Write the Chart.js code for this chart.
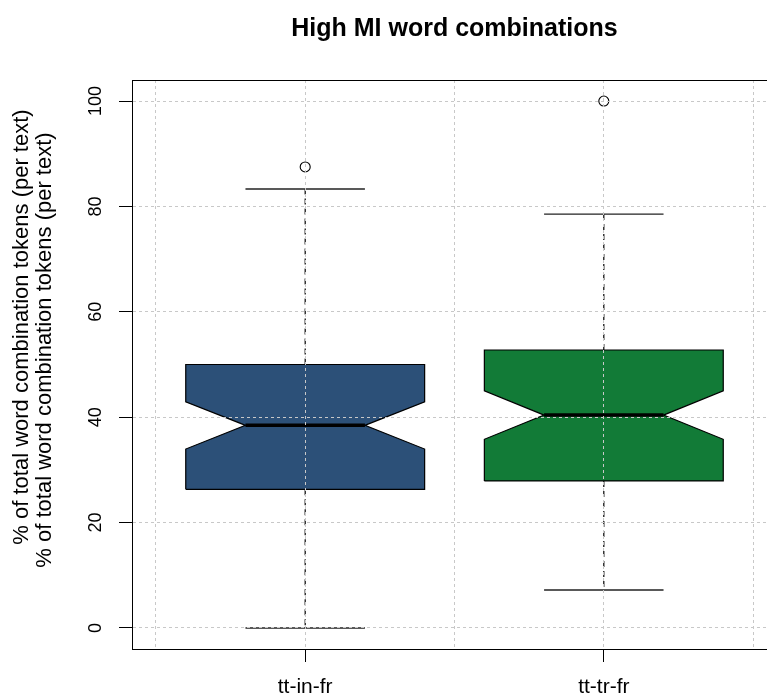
<!DOCTYPE html>
<html>
<head>
<meta charset="utf-8">
<title>High MI word combinations</title>
<script src="https://cdn.jsdelivr.net/npm/chart.js@4.4.1/dist/chart.umd.min.js"></script>
<style>
    html, body { margin: 0; padding: 0; background: #fff; overflow: hidden; }
    #wrap { width: 790px; height: 696px; }
</style>
</head>
<body>
<div id="wrap"><canvas id="mi-boxplot" width="790" height="696"></canvas></div>
<script>
// values
const categories = ['tt-in-fr', 'tt-tr-fr'];
const q1 = [26.3, 27.9];
const medians = [38.45, 40.4];
const q3 = [50.0, 52.75];
const notchLow = [33.95, 35.8];
const notchHigh = [42.9, 45.0];
const whiskerLow = [0, 7.2];
const whiskerHigh = [83.3, 78.55];
const outliers = [[87.5], [100]];
const yTicks = [0, 20, 40, 60, 80, 100];
const xGrid = [0.5, 1, 1.5, 2, 2.5];

const boxColors = ['#2c5078', '#127b37'];
const yLabel = '% of total word combination tokens (per text)';

// box geometry in x-axis units (R defaults: width 0.8, notch/staple half of it)
const boxHalf = 0.4;
const notchHalf = 0.2;
const capHalf = 0.2;

function notchedBox(i) {
    const x = i + 1;
    const pts = [
        [x - boxHalf, q1[i]],
        [x - boxHalf, notchLow[i]],
        [x - notchHalf, medians[i]],
        [x - boxHalf, notchHigh[i]],
        [x - boxHalf, q3[i]],
        [x + boxHalf, q3[i]],
        [x + boxHalf, notchHigh[i]],
        [x + notchHalf, medians[i]],
        [x + boxHalf, notchLow[i]],
        [x + boxHalf, q1[i]],
        [x - boxHalf, q1[i]]
    ];
    return pts.map(p => ({ x: p[0], y: p[1] }));
}

const segment = (x0, y0, x1, y1) => [{ x: x0, y: y0 }, { x: x1, y: y1 }];

const datasets = [];
categories.forEach((name, i) => {
    const x = i + 1;
    datasets.push({
        label: name + ' box',
        data: notchedBox(i),
        showLine: true,
        fill: 'shape',
        backgroundColor: boxColors[i],
        borderColor: '#000',
        borderWidth: 1.2,
        pointRadius: 0,
        order: 4
    });
    [[q3[i], whiskerHigh[i]], [q1[i], whiskerLow[i]]].forEach(w => {
        datasets.push({
            label: name + ' whisker',
            data: segment(x, w[0], x, w[1]),
            showLine: true,
            borderColor: '#000',
            borderWidth: 1.2,
            borderDash: [6, 4],
            pointRadius: 0,
            order: 3
        });
    });
    [whiskerHigh[i], whiskerLow[i]].forEach(v => {
        datasets.push({
            label: name + ' staple',
            data: segment(x - capHalf, v, x + capHalf, v),
            showLine: true,
            borderColor: '#222',
            borderWidth: 1.4,
            pointRadius: 0,
            order: 2
        });
    });
    datasets.push({
        label: name + ' median',
        data: segment(x - notchHalf, medians[i], x + notchHalf, medians[i]),
        showLine: true,
        borderColor: '#000',
        borderWidth: 3.5,
        borderCapStyle: 'butt',
        pointRadius: 0,
        order: 1
    });
    datasets.push({
        label: name + ' outliers',
        data: outliers[i].map(v => ({ x: x, y: v })),
        showLine: false,
        pointStyle: 'circle',
        pointRadius: 5,
        pointBorderWidth: 1.1,
        pointBorderColor: '#000',
        pointBackgroundColor: 'rgba(0,0,0,0)',
        order: 0
    });
});

// top / right frame line of the plot box (R draws a full box)
const frameBox = {
    id: 'frameBox',
    afterDraw(chart) {
        const { ctx, chartArea: a } = chart;
        ctx.save();
        ctx.strokeStyle = '#000';
        ctx.lineWidth = 1;
        ctx.strokeRect(a.left + 0.5, a.top + 0.5, a.right - a.left, a.bottom - a.top);
        ctx.restore();
    }
};

// the y label appears twice in the reference, slightly offset
const doubleYLabel = {
    id: 'doubleYLabel',
    afterDraw(chart) {
        const ctx = chart.ctx;
        ctx.save();
        ctx.fillStyle = '#000';
        ctx.font = "22px 'Liberation Sans', Arial, sans-serif";
        ctx.textAlign = 'center';
        ctx.textBaseline = 'middle';
        [[22, 327], [45, 350]].forEach(p => {
            ctx.save();
            ctx.translate(p[0], p[1]);
            ctx.rotate(-Math.PI / 2);
            ctx.fillText(yLabel, 0, 0);
            ctx.restore();
        });
        ctx.restore();
    }
};

Chart.defaults.font.family = "'Liberation Sans', Arial, sans-serif";
Chart.defaults.color = '#000';

new Chart(document.getElementById('mi-boxplot'), {
    type: 'scatter',
    data: { datasets: datasets },
    options: {
        responsive: false,
        animation: false,
        layout: { padding: { left: 0, right: 13, top: 0, bottom: 0 } },
        plugins: {
            legend: { display: false },
            tooltip: { enabled: false },
            title: {
                display: true,
                text: 'High MI word combinations',
                fullSize: false,
                color: '#000',
                font: { size: 25, weight: 'bold' },
                padding: { top: 14, bottom: 36 }
            }
        },
        scales: {
            x: {
                type: 'linear',
                min: 0.42,
                max: 2.58,
                afterBuildTicks: scale => { scale.ticks = xGrid.map(v => ({ value: v })); },
                afterFit: scale => { scale.height = 47; },
                grid: {
                    color: '#c8c8c8',
                    lineWidth: 1,
                    tickLength: 13,
                    tickColor: ctx => Number.isInteger(ctx.tick.value) ? '#000' : 'rgba(0,0,0,0)',
                    z: 1
                },
                border: { display: true, color: '#000', width: 1, dash: [3, 3], z: 2 },
                ticks: {
                    autoSkip: false,
                    maxRotation: 0,
                    padding: 13,
                    font: { size: 21 },
                    callback: v => Number.isInteger(v) ? categories[v - 1] : ''
                }
            },
            y: {
                type: 'linear',
                min: -4,
                max: 104,
                afterBuildTicks: scale => { scale.ticks = yTicks.map(v => ({ value: v })); },
                afterFit: scale => { scale.width = 132; },
                grid: {
                    color: '#c8c8c8',
                    lineWidth: 1,
                    tickLength: 13,
                    tickColor: '#000',
                    z: 1
                },
                border: { display: true, color: '#000', width: 1, dash: [3, 3], z: 2 },
                ticks: {
                    minRotation: 90,
                    maxRotation: 90,
                    crossAlign: 'center',
                    padding: 8,
                    font: { size: 18 }
                }
            }
        }
    },
    plugins: [frameBox, doubleYLabel]
});
</script>
</body>
</html>
